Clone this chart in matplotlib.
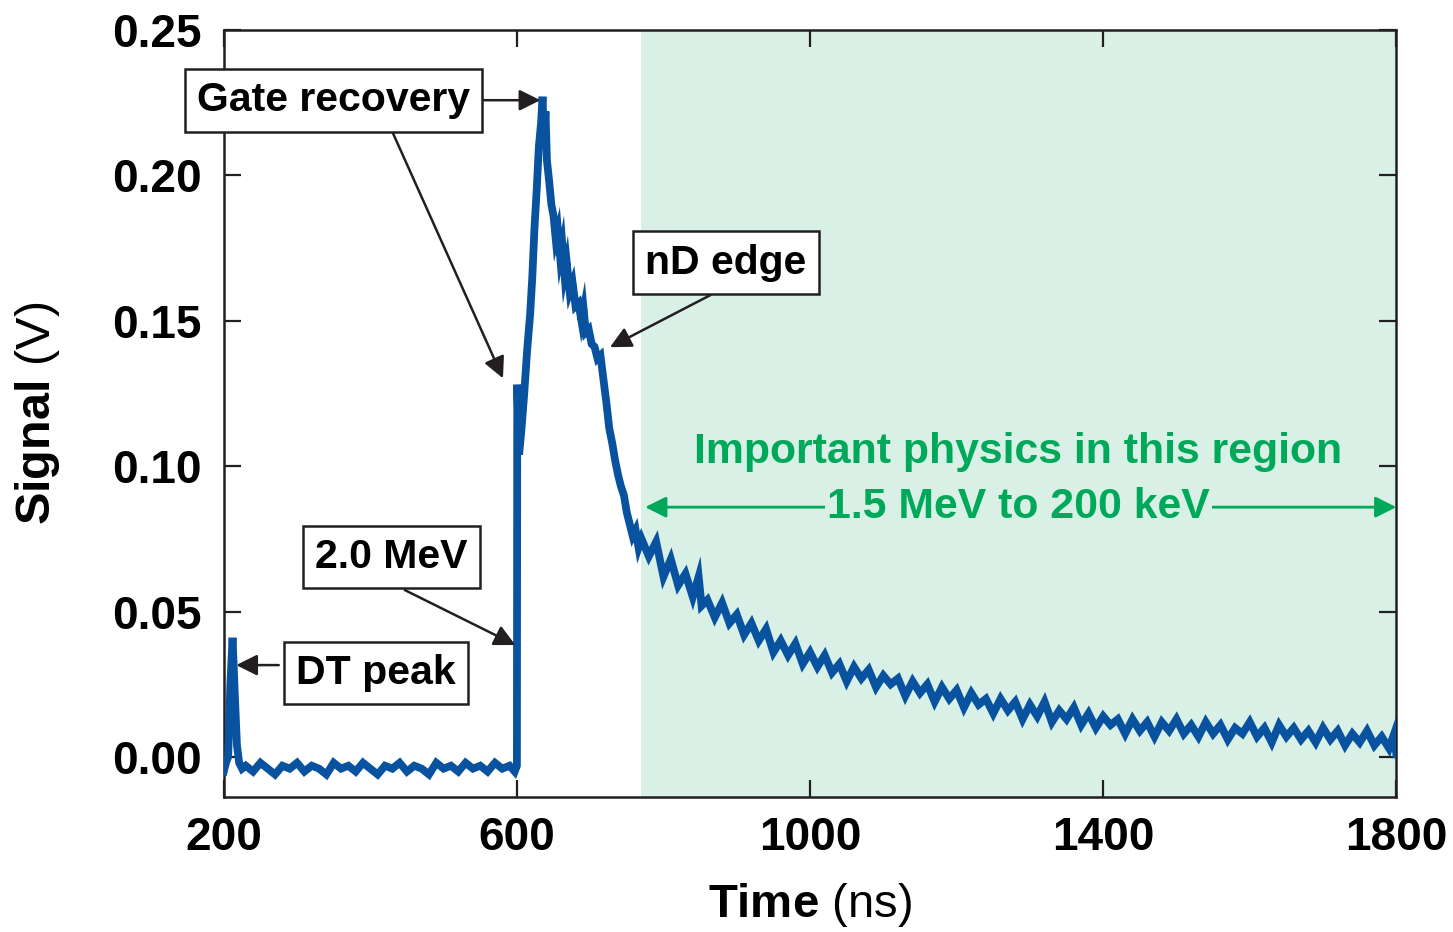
import numpy as np
import matplotlib
matplotlib.use("Agg")
import matplotlib.pyplot as plt

plt.rcParams['font.family'] = ['Liberation Sans', 'DejaVu Sans']
plt.rcParams['mathtext.fontset'] = 'custom'
plt.rcParams['mathtext.rm'] = 'Liberation Sans'
plt.rcParams['mathtext.bf'] = 'Liberation Sans:bold'

# trace: time (ns), signal (V)
time_ns = [200, 203, 206, 209, 212, 215, 218, 221, 225, 230, 240, 250, 260, 270, 280, 290,
           300, 310, 320, 330, 340, 350, 360, 370, 380, 390, 400, 410, 420, 430, 440, 450,
           460, 470, 480, 490, 500, 510, 520, 530, 540, 550, 560, 570, 580, 590, 597, 600,
           600.5, 603, 606, 610, 614, 618, 621, 624, 627, 630, 633, 635, 637, 639, 641, 644,
           647, 650, 653, 656, 659, 662, 665, 668, 672, 676, 680, 684, 688, 691, 694, 698,
           702, 706, 710, 714, 718, 722, 726, 730, 734, 738, 742, 746, 750, 754, 758, 762,
           766, 770, 780, 790, 800, 810, 820, 830, 840, 848, 852, 860, 870, 880, 890, 900,
           910, 920, 930, 940, 950, 960, 970, 980, 990, 1000, 1010, 1020, 1030, 1040, 1050,
           1060, 1070, 1080, 1090, 1100, 1110, 1120, 1130, 1140, 1150, 1160, 1170, 1180,
           1190, 1200, 1210, 1220, 1230, 1240, 1250, 1260, 1270, 1280, 1290, 1300, 1310,
           1320, 1330, 1340, 1350, 1360, 1370, 1380, 1390, 1400, 1410, 1420, 1430, 1440,
           1450, 1460, 1470, 1480, 1490, 1500, 1510, 1520, 1530, 1540, 1550, 1560, 1570,
           1580, 1590, 1600, 1610, 1620, 1630, 1640, 1650, 1660, 1670, 1680, 1690, 1700,
           1710, 1720, 1730, 1740, 1750, 1760, 1770, 1780, 1790, 1797, 1800]
signal_v = [-0.005, -0.002, 0.000, 0.025, 0.041, 0.022, 0.004, -0.002, -0.004, -0.003, -0.005,
            -0.002, -0.004, -0.006, -0.003, -0.004, -0.002, -0.005, -0.003, -0.004, -0.006,
            -0.002, -0.004, -0.003, -0.005, -0.002, -0.004, -0.006, -0.003, -0.004, -0.002,
            -0.005, -0.003, -0.004, -0.006, -0.002, -0.004, -0.003, -0.005, -0.002, -0.004,
            -0.003, -0.005, -0.002, -0.004, -0.003, -0.005, -0.003,
            0.128, 0.104, 0.112, 0.125, 0.140, 0.152, 0.165, 0.182, 0.195, 0.210, 0.218,
            0.227, 0.212, 0.222, 0.205, 0.198, 0.190, 0.186, 0.178, 0.181, 0.172, 0.176,
            0.166, 0.170, 0.160, 0.163, 0.155, 0.156, 0.150, 0.154, 0.146, 0.147, 0.142,
            0.141, 0.137, 0.138, 0.130, 0.122, 0.113, 0.108, 0.102, 0.097, 0.093, 0.090,
            0.084, 0.080, 0.076, 0.078, 0.072, 0.075, 0.069, 0.074, 0.062, 0.068, 0.059,
            0.063, 0.055, 0.062, 0.052, 0.054, 0.048, 0.053, 0.046, 0.049, 0.042, 0.046,
            0.040, 0.044, 0.036, 0.040, 0.035, 0.039, 0.032, 0.036, 0.031, 0.035, 0.029,
            0.032, 0.026, 0.031, 0.027, 0.030, 0.024, 0.028, 0.025, 0.027, 0.021, 0.026,
            0.022, 0.025, 0.019, 0.024, 0.020, 0.023, 0.017, 0.022, 0.018, 0.020, 0.015,
            0.020, 0.016, 0.019, 0.013, 0.018, 0.014, 0.019, 0.012, 0.016, 0.013, 0.017,
            0.011, 0.015, 0.010, 0.014, 0.011, 0.013, 0.008, 0.013, 0.009, 0.012, 0.007,
            0.012, 0.009, 0.013, 0.008, 0.011, 0.007, 0.012, 0.008, 0.011, 0.006, 0.010,
            0.008, 0.012, 0.007, 0.010, 0.005, 0.011, 0.007, 0.010, 0.006, 0.009, 0.005,
            0.010, 0.006, 0.009, 0.004, 0.008, 0.005, 0.009, 0.004, 0.007, 0.003, 0.008,
            0.001]

x_ticks = [200, 600, 1000, 1400, 1800]
y_ticks = [0.00, 0.05, 0.10, 0.15, 0.20, 0.25]
region = [770, 1800]

# box labels and their arrows (tail -> head), in data units
labels = [
    ("Gate recovery", (350, 0.2258)),
    ("nD edge", (885, 0.170)),
    ("2.0 MeV", (429, 0.0687)),
    ("DT peak", (407.5, 0.0289)),
]
arrows = [
    ((553, 0.2258), (632, 0.2258)),
    ((431, 0.2144), (581, 0.1302)),
    ((864, 0.1588), (727, 0.1409)),
    ((447, 0.0574), (598, 0.0385)),
    ((275, 0.0316), (217, 0.0316)),
]

line_col = '#0852a0'
shade_col = '#d8f0e6'
green = '#00a85a'
ink = '#231f20'

fig = plt.figure(figsize=(14.53, 9.32), dpi=100)
ax = fig.add_axes([0.154, 0.145, 0.807, 0.823])

ax.axvspan(region[0], region[1], color=shade_col, lw=0, zorder=0)
ax.plot(time_ns, signal_v, color=line_col, lw=5.6, solid_joinstyle='miter', zorder=3)

ax.set_xlim(200, 1800)
ax.set_ylim(-0.0137, 0.25)
ax.set_xticks(x_ticks)
ax.set_yticks(y_ticks)
ax.set_xticklabels([str(t) for t in x_ticks])
ax.set_yticklabels(['%.2f' % v for v in y_ticks])
ax.tick_params(direction='in', length=12, width=1.6, top=True, right=True,
               labelsize=33, color=ink)
ax.tick_params(axis='x', pad=14)
ax.tick_params(axis='y', pad=16)
for lab in ax.get_xticklabels() + ax.get_yticklabels():
    lab.set_fontweight('bold')
for sp in ax.spines.values():
    sp.set_linewidth(1.8)
    sp.set_color(ink)

ax.set_xlabel(r'$\mathbf{Time}$ (ns)', fontsize=34, labelpad=15)
ax.set_ylabel(r'$\mathbf{Signal}$ (V)', fontsize=35, labelpad=36)

for txt, pos in labels:
    ax.text(pos[0], pos[1], txt, fontsize=29.5, fontweight='bold', ha='center', va='center',
            zorder=6, bbox=dict(boxstyle='square,pad=0.3', fc='white', ec=ink, lw=1.8))
for tail, head in arrows:
    ax.annotate('', xy=head, xytext=tail, zorder=5,
                arrowprops=dict(arrowstyle='-|>', color=ink, lw=1.8, mutation_scale=32,
                                shrinkA=0, shrinkB=0))

ax.annotate('', xy=(region[0] + 5, 0.0859), xytext=(1800, 0.0859), zorder=4,
            arrowprops=dict(arrowstyle='<|-|>', color=green, lw=2, mutation_scale=32,
                            shrinkA=0, shrinkB=0))
ax.text(1284, 0.1050, 'Important physics in this region', color=green, fontsize=30.8,
        fontweight='bold', ha='center', va='center', zorder=5)
ax.text(1284, 0.0859, '1.5 MeV to 200 keV', color=green, fontsize=30.8, fontweight='bold',
        ha='center', va='center', zorder=5,
        bbox=dict(boxstyle='square,pad=0.05', fc=shade_col, ec='none'))

fig.savefig('out.png', dpi=100)
